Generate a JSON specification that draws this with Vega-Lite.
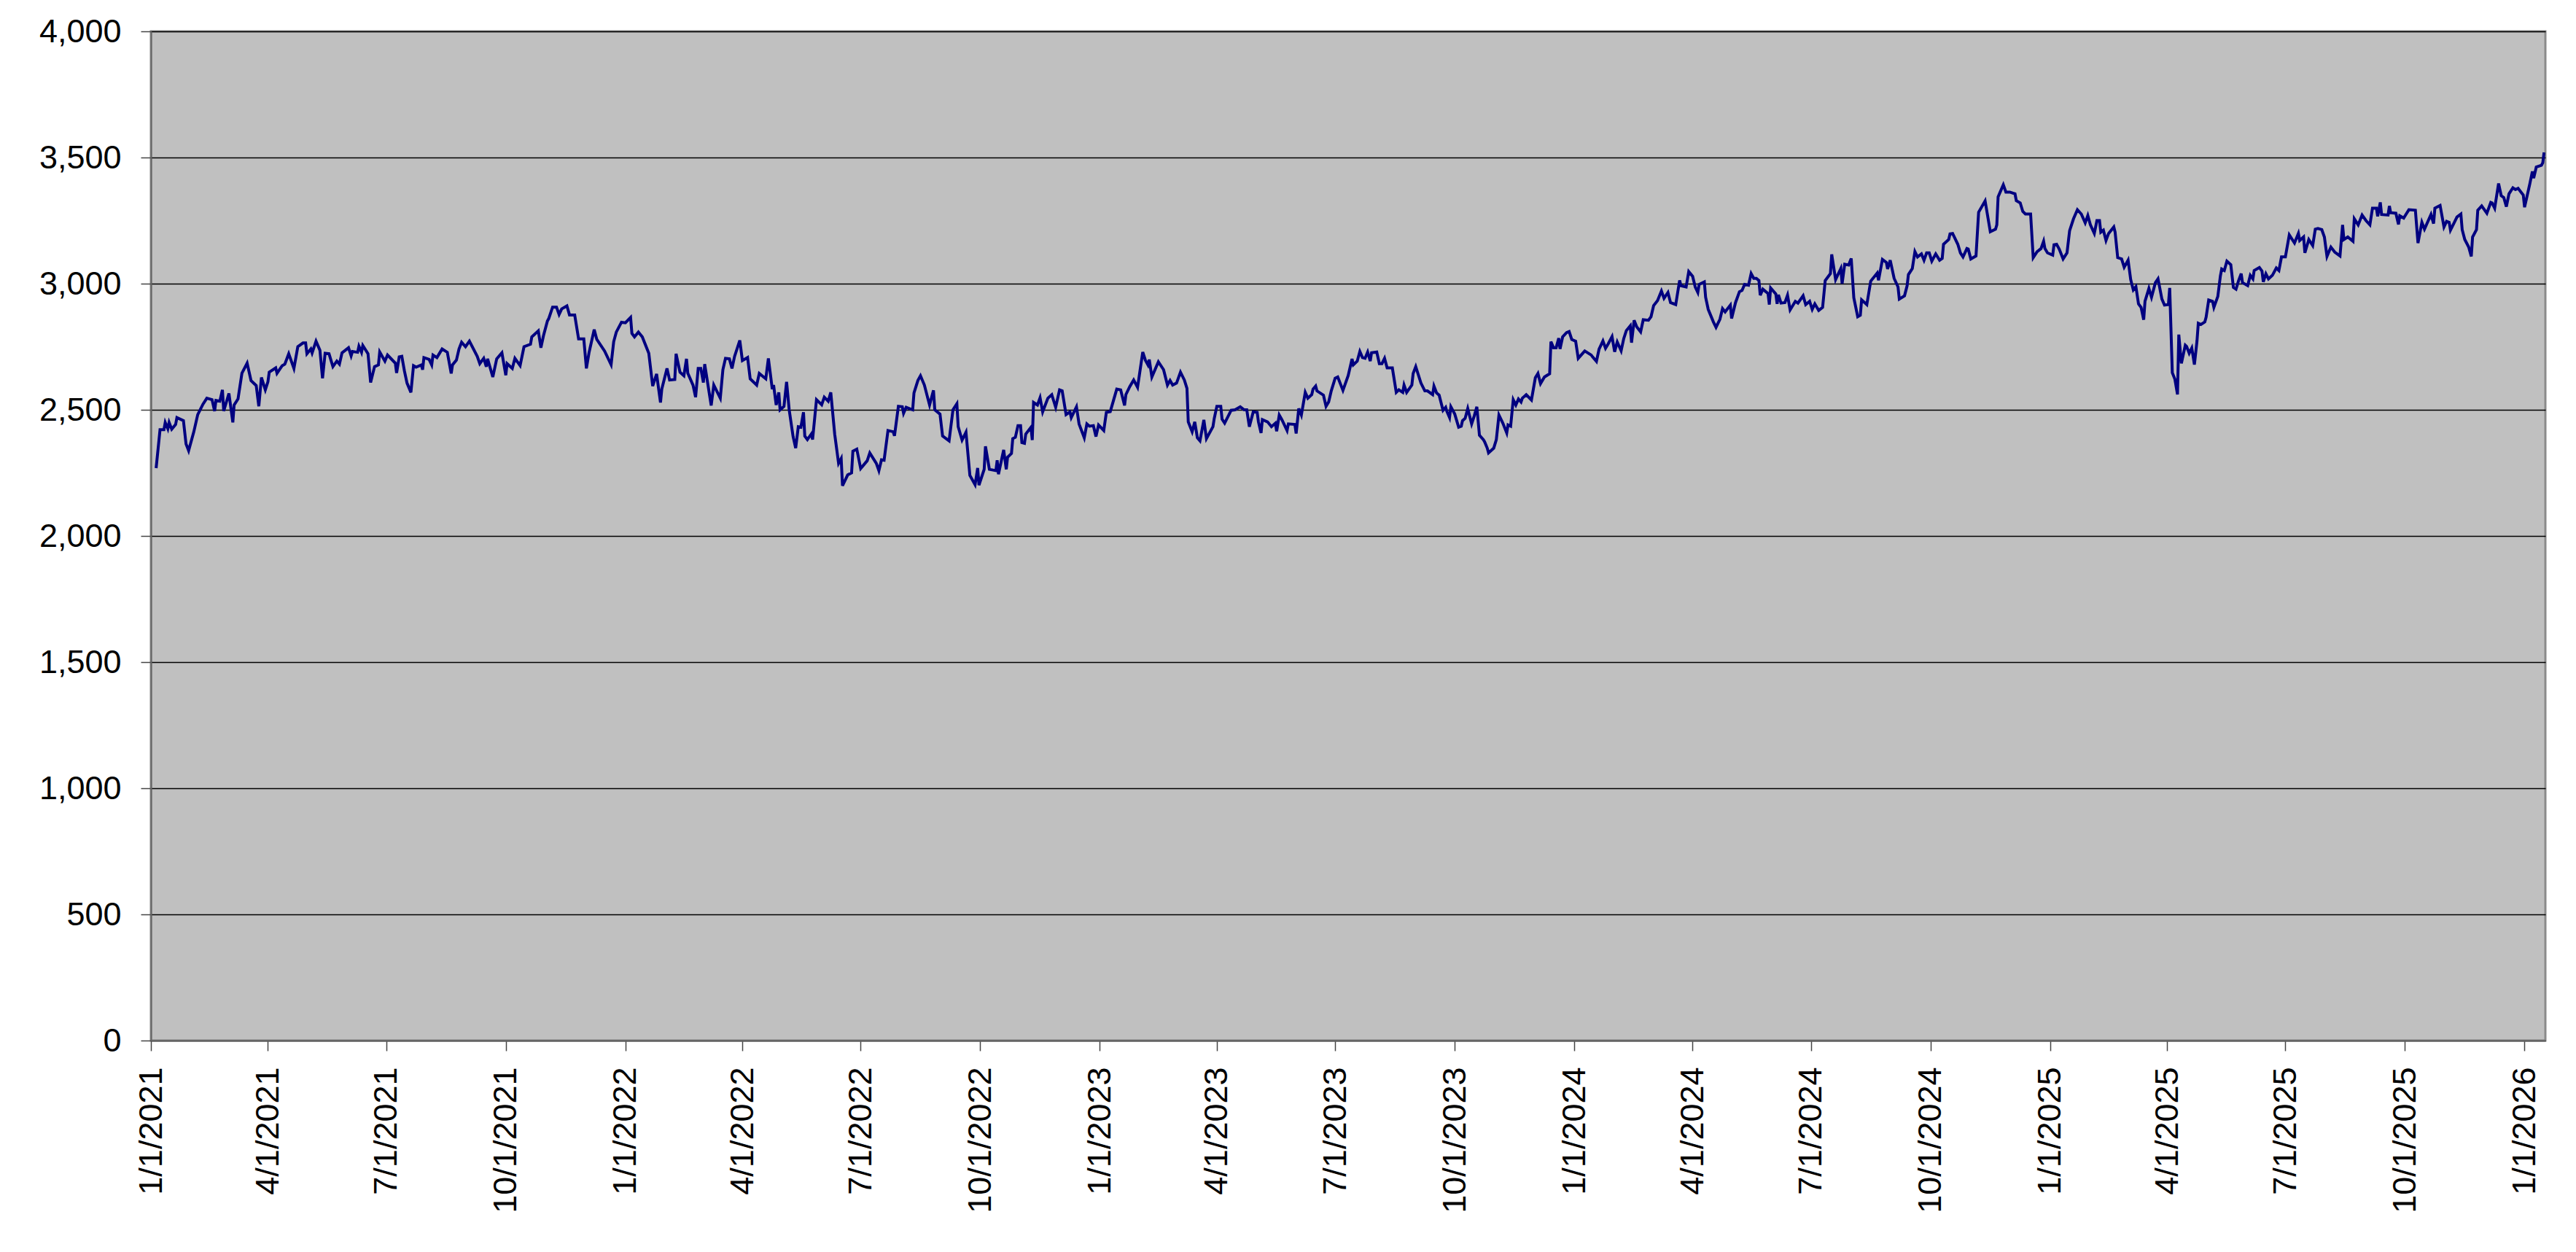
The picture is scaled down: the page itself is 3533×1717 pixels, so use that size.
{
  "$schema": "https://vega.github.io/schema/vega-lite/v6.json",
  "width": 3284,
  "height": 1384,
  "autosize": "none",
  "padding": {"left": 207, "top": 43, "right": 42, "bottom": 290},
  "background": "white",
  "config": {
    "font": "Liberation Sans",
    "view": {"fill": "#c0c0c0", "stroke": "#8a8a8a", "strokeWidth": 3}
  },
  "data": {"values": [
    {"date":"2021-01-05","value":2269},{"date":"2021-01-08","value":2421},{"date":"2021-01-11","value":2421},{"date":"2021-01-12","value":2450},{"date":"2021-01-14","value":2425},{"date":"2021-01-15","value":2450},{"date":"2021-01-17","value":2423},{"date":"2021-01-20","value":2442},{"date":"2021-01-21","value":2469},{"date":"2021-01-26","value":2457},{"date":"2021-01-28","value":2365},{"date":"2021-01-30","value":2338},
    {"date":"2021-02-03","value":2413},{"date":"2021-02-06","value":2481},{"date":"2021-02-10","value":2522},{"date":"2021-02-13","value":2546},{"date":"2021-02-17","value":2540},{"date":"2021-02-19","value":2495},{"date":"2021-02-20","value":2537},{"date":"2021-02-23","value":2534},{"date":"2021-02-25","value":2579},{"date":"2021-02-26","value":2495},
    {"date":"2021-03-02","value":2565},{"date":"2021-03-05","value":2450},{"date":"2021-03-06","value":2519},{"date":"2021-03-09","value":2543},{"date":"2021-03-12","value":2645},{"date":"2021-03-16","value":2685},{"date":"2021-03-19","value":2616},{"date":"2021-03-23","value":2596},{"date":"2021-03-25","value":2514},{"date":"2021-03-27","value":2628},{"date":"2021-03-30","value":2579},
    {"date":"2021-04-01","value":2611},{"date":"2021-04-02","value":2649},{"date":"2021-04-07","value":2666},{"date":"2021-04-08","value":2645},{"date":"2021-04-12","value":2675},{"date":"2021-04-14","value":2681},{"date":"2021-04-17","value":2722},{"date":"2021-04-21","value":2664},{"date":"2021-04-24","value":2750},{"date":"2021-04-28","value":2765},{"date":"2021-04-30","value":2765},
    {"date":"2021-05-01","value":2722},{"date":"2021-05-04","value":2741},{"date":"2021-05-05","value":2725},{"date":"2021-05-08","value":2772},{"date":"2021-05-11","value":2736},{"date":"2021-05-13","value":2625},{"date":"2021-05-15","value":2724},{"date":"2021-05-18","value":2722},{"date":"2021-05-21","value":2671},{"date":"2021-05-24","value":2693},{"date":"2021-05-26","value":2681},{"date":"2021-05-28","value":2726},
    {"date":"2021-06-02","value":2746},{"date":"2021-06-04","value":2714},{"date":"2021-06-05","value":2731},{"date":"2021-06-09","value":2728},{"date":"2021-06-10","value":2752},{"date":"2021-06-12","value":2728},{"date":"2021-06-13","value":2755},{"date":"2021-06-17","value":2722},{"date":"2021-06-19","value":2608},{"date":"2021-06-22","value":2671},{"date":"2021-06-25","value":2678},{"date":"2021-06-26","value":2729},{"date":"2021-06-30","value":2693},
    {"date":"2021-07-02","value":2717},{"date":"2021-07-08","value":2685},{"date":"2021-07-09","value":2646},{"date":"2021-07-11","value":2710},{"date":"2021-07-13","value":2712},{"date":"2021-07-15","value":2654},{"date":"2021-07-17","value":2606},{"date":"2021-07-20","value":2569},{"date":"2021-07-22","value":2675},{"date":"2021-07-24","value":2669},{"date":"2021-07-28","value":2678},{"date":"2021-07-29","value":2659},{"date":"2021-07-30","value":2707},
    {"date":"2021-08-03","value":2700},{"date":"2021-08-05","value":2678},{"date":"2021-08-06","value":2717},{"date":"2021-08-09","value":2707},{"date":"2021-08-13","value":2741},{"date":"2021-08-17","value":2728},{"date":"2021-08-20","value":2644},{"date":"2021-08-21","value":2678},{"date":"2021-08-24","value":2697},{"date":"2021-08-26","value":2741},{"date":"2021-08-28","value":2768},{"date":"2021-08-31","value":2750},
    {"date":"2021-09-03","value":2772},{"date":"2021-09-09","value":2712},{"date":"2021-09-11","value":2683},{"date":"2021-09-14","value":2704},{"date":"2021-09-16","value":2671},{"date":"2021-09-17","value":2702},{"date":"2021-09-21","value":2630},{"date":"2021-09-24","value":2702},{"date":"2021-09-28","value":2726},
    {"date":"2021-10-01","value":2637},{"date":"2021-10-02","value":2683},{"date":"2021-10-06","value":2664},{"date":"2021-10-08","value":2704},{"date":"2021-10-12","value":2675},{"date":"2021-10-15","value":2750},{"date":"2021-10-20","value":2760},{"date":"2021-10-21","value":2789},{"date":"2021-10-26","value":2813},{"date":"2021-10-28","value":2746},{"date":"2021-10-30","value":2794},
    {"date":"2021-11-02","value":2852},{"date":"2021-11-03","value":2861},{"date":"2021-11-06","value":2907},{"date":"2021-11-09","value":2907},{"date":"2021-11-11","value":2878},{"date":"2021-11-13","value":2900},{"date":"2021-11-17","value":2912},{"date":"2021-11-19","value":2876},{"date":"2021-11-23","value":2876},{"date":"2021-11-26","value":2781},{"date":"2021-11-30","value":2781},
    {"date":"2021-12-02","value":2664},{"date":"2021-12-04","value":2726},{"date":"2021-12-08","value":2818},{"date":"2021-12-10","value":2779},{"date":"2021-12-16","value":2733},{"date":"2021-12-21","value":2679},{"date":"2021-12-23","value":2770},{"date":"2021-12-25","value":2808},{"date":"2021-12-29","value":2847},
    {"date":"2022-01-01","value":2845},{"date":"2022-01-05","value":2866},{"date":"2022-01-06","value":2803},{"date":"2022-01-08","value":2789},{"date":"2022-01-11","value":2808},{"date":"2022-01-14","value":2789},{"date":"2022-01-19","value":2724},{"date":"2022-01-22","value":2594},{"date":"2022-01-25","value":2642},{"date":"2022-01-28","value":2529},{"date":"2022-01-29","value":2582},
    {"date":"2022-02-02","value":2664},{"date":"2022-02-04","value":2618},{"date":"2022-02-08","value":2620},{"date":"2022-02-09","value":2722},{"date":"2022-02-12","value":2649},{"date":"2022-02-15","value":2635},{"date":"2022-02-17","value":2702},{"date":"2022-02-18","value":2645},{"date":"2022-02-22","value":2598},{"date":"2022-02-24","value":2550},{"date":"2022-02-26","value":2664},{"date":"2022-02-28","value":2664},
    {"date":"2022-03-02","value":2608},{"date":"2022-03-03","value":2681},{"date":"2022-03-08","value":2517},{"date":"2022-03-10","value":2598},{"date":"2022-03-15","value":2546},{"date":"2022-03-17","value":2659},{"date":"2022-03-19","value":2704},{"date":"2022-03-22","value":2702},{"date":"2022-03-24","value":2664},{"date":"2022-03-26","value":2712},{"date":"2022-03-30","value":2775},
    {"date":"2022-04-01","value":2695},{"date":"2022-04-05","value":2707},{"date":"2022-04-07","value":2623},{"date":"2022-04-12","value":2598},{"date":"2022-04-14","value":2644},{"date":"2022-04-19","value":2623},{"date":"2022-04-21","value":2704},{"date":"2022-04-24","value":2582},{"date":"2022-04-25","value":2598},{"date":"2022-04-27","value":2519},{"date":"2022-04-29","value":2569},{"date":"2022-04-30","value":2500},
    {"date":"2022-05-03","value":2514},{"date":"2022-05-05","value":2611},{"date":"2022-05-07","value":2500},{"date":"2022-05-10","value":2394},{"date":"2022-05-12","value":2348},{"date":"2022-05-14","value":2433},{"date":"2022-05-16","value":2431},{"date":"2022-05-18","value":2490},{"date":"2022-05-19","value":2396},{"date":"2022-05-21","value":2382},{"date":"2022-05-24","value":2404},{"date":"2022-05-25","value":2382},{"date":"2022-05-28","value":2540},
    {"date":"2022-06-01","value":2520},{"date":"2022-06-03","value":2550},{"date":"2022-06-06","value":2534},{"date":"2022-06-08","value":2569},{"date":"2022-06-11","value":2404},{"date":"2022-06-14","value":2288},{"date":"2022-06-16","value":2307},{"date":"2022-06-17","value":2199},{"date":"2022-06-21","value":2242},{"date":"2022-06-24","value":2250},{"date":"2022-06-25","value":2336},{"date":"2022-06-28","value":2344},
    {"date":"2022-07-01","value":2267},{"date":"2022-07-06","value":2298},{"date":"2022-07-08","value":2329},{"date":"2022-07-13","value":2288},{"date":"2022-07-15","value":2259},{"date":"2022-07-17","value":2302},{"date":"2022-07-19","value":2300},{"date":"2022-07-22","value":2418},{"date":"2022-07-26","value":2413},{"date":"2022-07-27","value":2397},{"date":"2022-07-30","value":2514},
    {"date":"2022-08-02","value":2512},{"date":"2022-08-03","value":2486},{"date":"2022-08-05","value":2510},{"date":"2022-08-10","value":2500},{"date":"2022-08-11","value":2567},{"date":"2022-08-14","value":2616},{"date":"2022-08-16","value":2635},{"date":"2022-08-19","value":2598},{"date":"2022-08-23","value":2519},{"date":"2022-08-26","value":2577},{"date":"2022-08-27","value":2500},{"date":"2022-08-31","value":2483},
    {"date":"2022-09-02","value":2396},{"date":"2022-09-07","value":2377},{"date":"2022-09-10","value":2500},{"date":"2022-09-13","value":2524},{"date":"2022-09-14","value":2433},{"date":"2022-09-17","value":2380},{"date":"2022-09-20","value":2411},{"date":"2022-09-23","value":2240},{"date":"2022-09-27","value":2203},{"date":"2022-09-29","value":2269},{"date":"2022-09-30","value":2201},
    {"date":"2022-10-04","value":2264},{"date":"2022-10-05","value":2355},{"date":"2022-10-08","value":2264},{"date":"2022-10-13","value":2259},{"date":"2022-10-14","value":2300},{"date":"2022-10-15","value":2245},{"date":"2022-10-19","value":2341},{"date":"2022-10-21","value":2264},{"date":"2022-10-22","value":2312},{"date":"2022-10-25","value":2327},{"date":"2022-10-26","value":2386},{"date":"2022-10-28","value":2391},{"date":"2022-10-30","value":2437},
    {"date":"2022-11-01","value":2437},{"date":"2022-11-02","value":2370},{"date":"2022-11-04","value":2367},{"date":"2022-11-05","value":2404},{"date":"2022-11-09","value":2431},{"date":"2022-11-10","value":2380},{"date":"2022-11-11","value":2529},{"date":"2022-11-14","value":2519},{"date":"2022-11-16","value":2548},{"date":"2022-11-18","value":2492},{"date":"2022-11-22","value":2546},{"date":"2022-11-25","value":2560},{"date":"2022-11-28","value":2510},
    {"date":"2022-12-01","value":2579},{"date":"2022-12-03","value":2575},{"date":"2022-12-06","value":2481},{"date":"2022-12-09","value":2492},{"date":"2022-12-10","value":2469},{"date":"2022-12-14","value":2512},{"date":"2022-12-16","value":2444},{"date":"2022-12-20","value":2389},{"date":"2022-12-22","value":2444},{"date":"2022-12-24","value":2435},{"date":"2022-12-27","value":2437},{"date":"2022-12-29","value":2394},{"date":"2022-12-31","value":2440},
    {"date":"2023-01-04","value":2418},{"date":"2023-01-06","value":2490},{"date":"2023-01-09","value":2493},{"date":"2023-01-14","value":2582},{"date":"2023-01-17","value":2579},{"date":"2023-01-20","value":2517},{"date":"2023-01-21","value":2560},{"date":"2023-01-24","value":2592},{"date":"2023-01-27","value":2618},{"date":"2023-01-30","value":2589},
    {"date":"2023-02-03","value":2729},{"date":"2023-02-05","value":2697},{"date":"2023-02-07","value":2678},{"date":"2023-02-08","value":2699},{"date":"2023-02-10","value":2630},{"date":"2023-02-15","value":2690},{"date":"2023-02-19","value":2659},{"date":"2023-02-22","value":2598},{"date":"2023-02-24","value":2616},{"date":"2023-02-26","value":2598},
    {"date":"2023-03-01","value":2606},{"date":"2023-03-04","value":2649},{"date":"2023-03-07","value":2618},{"date":"2023-03-09","value":2585},{"date":"2023-03-10","value":2452},{"date":"2023-03-13","value":2413},{"date":"2023-03-15","value":2452},{"date":"2023-03-17","value":2389},{"date":"2023-03-19","value":2377},{"date":"2023-03-22","value":2460},{"date":"2023-03-24","value":2386},{"date":"2023-03-29","value":2433},{"date":"2023-03-30","value":2466},
    {"date":"2023-04-01","value":2514},{"date":"2023-04-04","value":2514},{"date":"2023-04-05","value":2463},{"date":"2023-04-07","value":2447},{"date":"2023-04-12","value":2498},{"date":"2023-04-15","value":2500},{"date":"2023-04-19","value":2512},{"date":"2023-04-22","value":2500},{"date":"2023-04-24","value":2500},{"date":"2023-04-26","value":2433},{"date":"2023-04-29","value":2492},
    {"date":"2023-05-02","value":2490},{"date":"2023-05-03","value":2452},{"date":"2023-05-05","value":2408},{"date":"2023-05-06","value":2461},{"date":"2023-05-10","value":2452},{"date":"2023-05-13","value":2433},{"date":"2023-05-16","value":2447},{"date":"2023-05-17","value":2415},{"date":"2023-05-19","value":2479},{"date":"2023-05-21","value":2461},{"date":"2023-05-25","value":2418},{"date":"2023-05-26","value":2444},{"date":"2023-05-31","value":2442},
    {"date":"2023-06-01","value":2406},{"date":"2023-06-03","value":2505},{"date":"2023-06-05","value":2479},{"date":"2023-06-08","value":2569},{"date":"2023-06-10","value":2546},{"date":"2023-06-13","value":2560},{"date":"2023-06-14","value":2582},{"date":"2023-06-16","value":2594},{"date":"2023-06-17","value":2575},{"date":"2023-06-22","value":2558},{"date":"2023-06-24","value":2514},{"date":"2023-06-26","value":2531},{"date":"2023-06-28","value":2575},
    {"date":"2023-07-01","value":2625},{"date":"2023-07-03","value":2630},{"date":"2023-07-07","value":2577},{"date":"2023-07-11","value":2635},{"date":"2023-07-14","value":2702},{"date":"2023-07-15","value":2678},{"date":"2023-07-18","value":2693},{"date":"2023-07-20","value":2731},{"date":"2023-07-22","value":2707},{"date":"2023-07-24","value":2704},{"date":"2023-07-26","value":2729},{"date":"2023-07-28","value":2693},{"date":"2023-07-29","value":2726},
    {"date":"2023-08-02","value":2729},{"date":"2023-08-04","value":2683},{"date":"2023-08-06","value":2683},{"date":"2023-08-08","value":2704},{"date":"2023-08-10","value":2666},{"date":"2023-08-14","value":2666},{"date":"2023-08-17","value":2569},{"date":"2023-08-19","value":2579},{"date":"2023-08-22","value":2569},{"date":"2023-08-23","value":2598},{"date":"2023-08-25","value":2569},{"date":"2023-08-29","value":2598},{"date":"2023-08-30","value":2644},
    {"date":"2023-09-01","value":2671},{"date":"2023-09-05","value":2606},{"date":"2023-09-08","value":2575},{"date":"2023-09-10","value":2575},{"date":"2023-09-14","value":2560},{"date":"2023-09-15","value":2594},{"date":"2023-09-17","value":2567},{"date":"2023-09-19","value":2558},{"date":"2023-09-22","value":2498},{"date":"2023-09-24","value":2510},{"date":"2023-09-25","value":2493},{"date":"2023-09-27","value":2469},{"date":"2023-09-28","value":2512},
    {"date":"2023-10-01","value":2483},{"date":"2023-10-04","value":2431},{"date":"2023-10-06","value":2435},{"date":"2023-10-07","value":2457},{"date":"2023-10-09","value":2466},{"date":"2023-10-11","value":2505},{"date":"2023-10-14","value":2444},{"date":"2023-10-16","value":2476},{"date":"2023-10-18","value":2512},{"date":"2023-10-20","value":2399},{"date":"2023-10-23","value":2382},{"date":"2023-10-24","value":2373},{"date":"2023-10-26","value":2348},{"date":"2023-10-27","value":2329},{"date":"2023-10-31","value":2348},
    {"date":"2023-11-02","value":2382},{"date":"2023-11-04","value":2479},{"date":"2023-11-07","value":2447},{"date":"2023-11-10","value":2408},{"date":"2023-11-11","value":2440},{"date":"2023-11-13","value":2435},{"date":"2023-11-15","value":2540},{"date":"2023-11-17","value":2519},{"date":"2023-11-19","value":2543},{"date":"2023-11-21","value":2531},{"date":"2023-11-22","value":2546},{"date":"2023-11-25","value":2560},{"date":"2023-11-29","value":2539},
    {"date":"2023-12-02","value":2627},{"date":"2023-12-04","value":2644},{"date":"2023-12-06","value":2604},{"date":"2023-12-09","value":2630},{"date":"2023-12-13","value":2643},{"date":"2023-12-14","value":2770},{"date":"2023-12-16","value":2746},{"date":"2023-12-18","value":2746},{"date":"2023-12-20","value":2784},{"date":"2023-12-21","value":2741},{"date":"2023-12-23","value":2789},{"date":"2023-12-26","value":2806},{"date":"2023-12-28","value":2810},{"date":"2023-12-30","value":2779},
    {"date":"2024-01-02","value":2772},{"date":"2024-01-04","value":2704},{"date":"2024-01-09","value":2733},{"date":"2024-01-14","value":2717},{"date":"2024-01-15","value":2710},{"date":"2024-01-18","value":2692},{"date":"2024-01-20","value":2740},{"date":"2024-01-23","value":2773},{"date":"2024-01-25","value":2744},{"date":"2024-01-27","value":2761},{"date":"2024-01-30","value":2790},
    {"date":"2024-02-01","value":2730},{"date":"2024-02-03","value":2769},{"date":"2024-02-06","value":2734},{"date":"2024-02-08","value":2782},{"date":"2024-02-10","value":2814},{"date":"2024-02-13","value":2833},{"date":"2024-02-14","value":2766},{"date":"2024-02-16","value":2855},{"date":"2024-02-18","value":2829},{"date":"2024-02-21","value":2809},{"date":"2024-02-23","value":2857},{"date":"2024-02-27","value":2855},{"date":"2024-02-29","value":2869},
    {"date":"2024-03-02","value":2913},{"date":"2024-03-05","value":2933},{"date":"2024-03-08","value":2971},{"date":"2024-03-10","value":2942},{"date":"2024-03-13","value":2965},{"date":"2024-03-15","value":2925},{"date":"2024-03-19","value":2917},{"date":"2024-03-22","value":3013},{"date":"2024-03-23","value":2992},{"date":"2024-03-27","value":2987},{"date":"2024-03-29","value":3048},
    {"date":"2024-04-01","value":3029},{"date":"2024-04-03","value":2987},{"date":"2024-04-05","value":2965},{"date":"2024-04-06","value":2997},{"date":"2024-04-10","value":3007},{"date":"2024-04-11","value":2946},{"date":"2024-04-13","value":2898},{"date":"2024-04-17","value":2848},{"date":"2024-04-19","value":2827},{"date":"2024-04-22","value":2859},{"date":"2024-04-24","value":2901},{"date":"2024-04-26","value":2888},{"date":"2024-04-30","value":2915},
    {"date":"2024-05-01","value":2862},{"date":"2024-05-04","value":2925},{"date":"2024-05-07","value":2968},{"date":"2024-05-09","value":2973},{"date":"2024-05-11","value":2997},{"date":"2024-05-14","value":2994},{"date":"2024-05-16","value":3040},{"date":"2024-05-18","value":3021},{"date":"2024-05-20","value":3021},{"date":"2024-05-22","value":3012},{"date":"2024-05-23","value":2954},{"date":"2024-05-25","value":2978},{"date":"2024-05-29","value":2961},{"date":"2024-05-30","value":2917},{"date":"2024-05-31","value":2983},
    {"date":"2024-06-04","value":2959},{"date":"2024-06-05","value":2920},{"date":"2024-06-06","value":2956},{"date":"2024-06-08","value":2923},{"date":"2024-06-11","value":2925},{"date":"2024-06-13","value":2954},{"date":"2024-06-15","value":2896},{"date":"2024-06-19","value":2930},{"date":"2024-06-21","value":2923},{"date":"2024-06-25","value":2952},{"date":"2024-06-27","value":2917},{"date":"2024-06-30","value":2930},
    {"date":"2024-07-02","value":2898},{"date":"2024-07-04","value":2920},{"date":"2024-07-07","value":2894},{"date":"2024-07-10","value":2906},{"date":"2024-07-12","value":3012},{"date":"2024-07-16","value":3040},{"date":"2024-07-17","value":3116},{"date":"2024-07-20","value":3016},{"date":"2024-07-24","value":3060},{"date":"2024-07-25","value":3000},{"date":"2024-07-27","value":3077},{"date":"2024-07-30","value":3074},
    {"date":"2024-08-01","value":3100},{"date":"2024-08-03","value":2944},{"date":"2024-08-06","value":2869},{"date":"2024-08-08","value":2875},{"date":"2024-08-09","value":2936},{"date":"2024-08-13","value":2917},{"date":"2024-08-16","value":3010},{"date":"2024-08-21","value":3042},{"date":"2024-08-22","value":3013},{"date":"2024-08-25","value":3096},{"date":"2024-08-28","value":3084},{"date":"2024-08-29","value":3058},{"date":"2024-08-31","value":3093},
    {"date":"2024-09-03","value":3021},{"date":"2024-09-06","value":2987},{"date":"2024-09-07","value":2939},{"date":"2024-09-11","value":2952},{"date":"2024-09-13","value":2992},{"date":"2024-09-14","value":3036},{"date":"2024-09-17","value":3060},{"date":"2024-09-19","value":3127},{"date":"2024-09-21","value":3106},{"date":"2024-09-24","value":3118},{"date":"2024-09-26","value":3093},{"date":"2024-09-28","value":3122},{"date":"2024-09-30","value":3122},
    {"date":"2024-10-02","value":3089},{"date":"2024-10-05","value":3118},{"date":"2024-10-08","value":3093},{"date":"2024-10-10","value":3100},{"date":"2024-10-11","value":3156},{"date":"2024-10-15","value":3175},{"date":"2024-10-16","value":3197},{"date":"2024-10-18","value":3199},{"date":"2024-10-22","value":3156},{"date":"2024-10-24","value":3122},{"date":"2024-10-26","value":3106},{"date":"2024-10-29","value":3139},{"date":"2024-10-30","value":3137},
    {"date":"2024-11-01","value":3098},{"date":"2024-11-05","value":3110},{"date":"2024-11-07","value":3283},{"date":"2024-11-12","value":3328},{"date":"2024-11-16","value":3206},{"date":"2024-11-20","value":3216},{"date":"2024-11-21","value":3233},{"date":"2024-11-22","value":3344},{"date":"2024-11-26","value":3392},{"date":"2024-11-28","value":3363},
    {"date":"2024-12-01","value":3363},{"date":"2024-12-05","value":3356},{"date":"2024-12-06","value":3329},{"date":"2024-12-09","value":3320},{"date":"2024-12-11","value":3286},{"date":"2024-12-13","value":3276},{"date":"2024-12-17","value":3276},{"date":"2024-12-19","value":3103},{"date":"2024-12-22","value":3127},{"date":"2024-12-25","value":3139},{"date":"2024-12-27","value":3168},{"date":"2024-12-28","value":3139},{"date":"2024-12-30","value":3122},
    {"date":"2025-01-03","value":3113},{"date":"2025-01-04","value":3154},{"date":"2025-01-06","value":3156},{"date":"2025-01-08","value":3137},{"date":"2025-01-11","value":3098},{"date":"2025-01-14","value":3122},{"date":"2025-01-16","value":3210},{"date":"2025-01-19","value":3257},{"date":"2025-01-22","value":3293},{"date":"2025-01-25","value":3276},{"date":"2025-01-28","value":3241},{"date":"2025-01-30","value":3270},
    {"date":"2025-02-01","value":3233},{"date":"2025-02-04","value":3199},{"date":"2025-02-06","value":3250},{"date":"2025-02-08","value":3250},{"date":"2025-02-09","value":3204},{"date":"2025-02-11","value":3212},{"date":"2025-02-13","value":3171},{"date":"2025-02-15","value":3199},{"date":"2025-02-19","value":3225},{"date":"2025-02-20","value":3204},{"date":"2025-02-22","value":3103},{"date":"2025-02-25","value":3098},{"date":"2025-02-27","value":3065},
    {"date":"2025-03-02","value":3093},{"date":"2025-03-04","value":3016},{"date":"2025-03-06","value":2975},{"date":"2025-03-08","value":2988},{"date":"2025-03-10","value":2920},{"date":"2025-03-12","value":2906},{"date":"2025-03-14","value":2857},{"date":"2025-03-15","value":2930},{"date":"2025-03-18","value":2981},{"date":"2025-03-20","value":2946},{"date":"2025-03-23","value":3004},{"date":"2025-03-25","value":3019},{"date":"2025-03-28","value":2939},{"date":"2025-03-30","value":2915},
    {"date":"2025-04-02","value":2917},{"date":"2025-04-03","value":2983},{"date":"2025-04-05","value":2647},{"date":"2025-04-07","value":2621},{"date":"2025-04-09","value":2561},{"date":"2025-04-10","value":2798},{"date":"2025-04-12","value":2684},{"date":"2025-04-15","value":2756},{"date":"2025-04-16","value":2751},{"date":"2025-04-18","value":2724},{"date":"2025-04-20","value":2745},{"date":"2025-04-22","value":2679},{"date":"2025-04-24","value":2773},{"date":"2025-04-25","value":2843},{"date":"2025-04-27","value":2838},{"date":"2025-04-30","value":2848},
    {"date":"2025-05-01","value":2867},{"date":"2025-05-03","value":2935},{"date":"2025-05-06","value":2930},{"date":"2025-05-07","value":2906},{"date":"2025-05-10","value":2949},{"date":"2025-05-12","value":3031},{"date":"2025-05-13","value":3058},{"date":"2025-05-15","value":3052},{"date":"2025-05-17","value":3089},{"date":"2025-05-20","value":3075},{"date":"2025-05-22","value":2985},{"date":"2025-05-24","value":2978},{"date":"2025-05-26","value":3012},{"date":"2025-05-28","value":3040},{"date":"2025-05-29","value":3004},
    {"date":"2025-06-02","value":2992},{"date":"2025-06-04","value":3033},{"date":"2025-06-06","value":3019},{"date":"2025-06-07","value":3052},{"date":"2025-06-11","value":3064},{"date":"2025-06-13","value":3050},{"date":"2025-06-14","value":3007},{"date":"2025-06-16","value":3039},{"date":"2025-06-18","value":3019},{"date":"2025-06-21","value":3033},{"date":"2025-06-24","value":3062},{"date":"2025-06-26","value":3052},{"date":"2025-06-28","value":3106},
    {"date":"2025-07-01","value":3106},{"date":"2025-07-04","value":3193},{"date":"2025-07-08","value":3161},{"date":"2025-07-11","value":3199},{"date":"2025-07-12","value":3171},{"date":"2025-07-15","value":3185},{"date":"2025-07-16","value":3122},{"date":"2025-07-19","value":3175},{"date":"2025-07-22","value":3151},{"date":"2025-07-24","value":3216},{"date":"2025-07-26","value":3219},{"date":"2025-07-29","value":3214},{"date":"2025-07-31","value":3185},
    {"date":"2025-08-02","value":3108},{"date":"2025-08-05","value":3145},{"date":"2025-08-08","value":3125},{"date":"2025-08-12","value":3110},{"date":"2025-08-14","value":3233},{"date":"2025-08-15","value":3175},{"date":"2025-08-18","value":3185},{"date":"2025-08-22","value":3168},{"date":"2025-08-23","value":3257},{"date":"2025-08-26","value":3233},{"date":"2025-08-29","value":3272},
    {"date":"2025-09-01","value":3250},{"date":"2025-09-04","value":3233},{"date":"2025-09-06","value":3299},{"date":"2025-09-09","value":3299},{"date":"2025-09-10","value":3267},{"date":"2025-09-12","value":3322},{"date":"2025-09-13","value":3274},{"date":"2025-09-18","value":3272},{"date":"2025-09-19","value":3308},{"date":"2025-09-20","value":3281},{"date":"2025-09-24","value":3279},{"date":"2025-09-26","value":3235},{"date":"2025-09-27","value":3269},{"date":"2025-09-30","value":3260},
    {"date":"2025-10-04","value":3293},{"date":"2025-10-09","value":3291},{"date":"2025-10-11","value":3161},{"date":"2025-10-14","value":3243},{"date":"2025-10-16","value":3216},{"date":"2025-10-21","value":3274},{"date":"2025-10-23","value":3238},{"date":"2025-10-24","value":3299},{"date":"2025-10-28","value":3310},{"date":"2025-10-31","value":3225},
    {"date":"2025-11-02","value":3247},{"date":"2025-11-04","value":3243},{"date":"2025-11-05","value":3212},{"date":"2025-11-08","value":3243},{"date":"2025-11-10","value":3264},{"date":"2025-11-13","value":3276},{"date":"2025-11-14","value":3214},{"date":"2025-11-16","value":3175},{"date":"2025-11-19","value":3145},{"date":"2025-11-21","value":3108},{"date":"2025-11-22","value":3185},{"date":"2025-11-25","value":3214},{"date":"2025-11-26","value":3291},{"date":"2025-11-29","value":3308},
    {"date":"2025-12-03","value":3279},{"date":"2025-12-06","value":3322},{"date":"2025-12-07","value":3320},{"date":"2025-12-09","value":3299},{"date":"2025-12-12","value":3397},{"date":"2025-12-14","value":3349},{"date":"2025-12-16","value":3341},{"date":"2025-12-18","value":3305},{"date":"2025-12-20","value":3356},{"date":"2025-12-23","value":3380},{"date":"2025-12-25","value":3373},{"date":"2025-12-27","value":3378},{"date":"2025-12-31","value":3351},
    {"date":"2026-01-01","value":3303},{"date":"2026-01-05","value":3395},{"date":"2026-01-07","value":3445},{"date":"2026-01-08","value":3418},{"date":"2026-01-10","value":3462},{"date":"2026-01-14","value":3469},{"date":"2026-01-15","value":3479},{"date":"2026-01-16","value":3520}
  ]},
  "mark": {"type": "line", "color": "#000080", "strokeWidth": 4, "clip": true},
  "encoding": {
    "x": {
      "field": "date",
      "type": "temporal",
      "scale": {
        "type": "utc",
        "domain": [
          {"year": 2021, "month": 1, "date": 1, "utc": true},
          {"year": 2026, "month": 1, "date": 17, "utc": true}
        ]
      },
      "axis": {
        "title": null,
        "grid": false,
        "values": [
          {"year": 2021, "month": 1, "date": 1, "utc": true},
          {"year": 2021, "month": 4, "date": 1, "utc": true},
          {"year": 2021, "month": 7, "date": 1, "utc": true},
          {"year": 2021, "month": 10, "date": 1, "utc": true},
          {"year": 2022, "month": 1, "date": 1, "utc": true},
          {"year": 2022, "month": 4, "date": 1, "utc": true},
          {"year": 2022, "month": 7, "date": 1, "utc": true},
          {"year": 2022, "month": 10, "date": 1, "utc": true},
          {"year": 2023, "month": 1, "date": 1, "utc": true},
          {"year": 2023, "month": 4, "date": 1, "utc": true},
          {"year": 2023, "month": 7, "date": 1, "utc": true},
          {"year": 2023, "month": 10, "date": 1, "utc": true},
          {"year": 2024, "month": 1, "date": 1, "utc": true},
          {"year": 2024, "month": 4, "date": 1, "utc": true},
          {"year": 2024, "month": 7, "date": 1, "utc": true},
          {"year": 2024, "month": 10, "date": 1, "utc": true},
          {"year": 2025, "month": 1, "date": 1, "utc": true},
          {"year": 2025, "month": 4, "date": 1, "utc": true},
          {"year": 2025, "month": 7, "date": 1, "utc": true},
          {"year": 2025, "month": 10, "date": 1, "utc": true},
          {"year": 2026, "month": 1, "date": 1, "utc": true}
        ],
        "labelExpr": "utcFormat(datum.value, '%-m/%-d/%Y')",
        "labelAngle": -90,
        "labelFontSize": 45,
        "labelColor": "#000000",
        "labelPadding": 22,
        "labelLimit": 0,
        "labelOverlap": false,
        "labelFlush": false,
        "tickSize": 14,
        "tickColor": "#444444",
        "tickWidth": 1.5,
        "domainColor": "#666666",
        "domainWidth": 2
      }
    },
    "y": {
      "field": "value",
      "type": "quantitative",
      "scale": {"domain": [0, 4000], "nice": false, "zero": true},
      "axis": {
        "title": null,
        "values": [0, 500, 1000, 1500, 2000, 2500, 3000, 3500, 4000],
        "format": ",.0f",
        "labelFontSize": 45,
        "labelColor": "#000000",
        "labelPadding": 27,
        "labelLimit": 0,
        "labelOverlap": false,
        "labelFlush": false,
        "tickSize": 14,
        "tickColor": "#444444",
        "tickWidth": 1.5,
        "grid": true,
        "gridColor": "#000000",
        "gridWidth": 1.5,
        "gridOpacity": 1,
        "domainColor": "#666666",
        "domainWidth": 2
      }
    }
  }
}
